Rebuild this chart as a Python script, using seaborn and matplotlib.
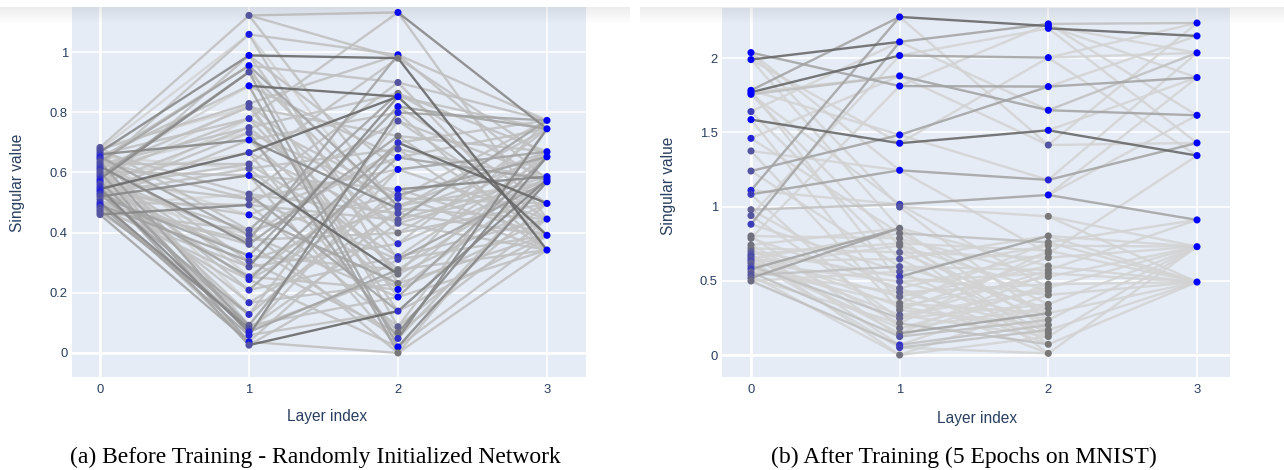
import numpy as np
import pandas as pd
import matplotlib
matplotlib.use("Agg")
import matplotlib.pyplot as plt
import seaborn as sns

LAYERS = [0, 1, 2, 3]

# ---- Before training: nodes are (singular value, blue tone 0..1) ----
before_l0 = [(0.683, 0.25), (0.676, 0.30), (0.668, 0.35), (0.660, 0.45), (0.652, 0.70),
             (0.645, 0.55), (0.636, 0.30), (0.628, 0.35), (0.620, 0.40), (0.612, 0.50),
             (0.603, 0.35), (0.595, 0.30), (0.587, 0.40), (0.578, 0.55), (0.570, 0.75),
             (0.562, 0.40), (0.553, 0.50), (0.545, 0.60), (0.537, 0.70), (0.528, 0.50),
             (0.520, 0.35), (0.510, 0.30), (0.500, 0.50), (0.492, 0.70), (0.484, 0.40),
             (0.476, 0.30), (0.468, 0.30), (0.460, 0.30)]
before_l1 = [(1.122, 0.30), (1.059, 0.80), (0.989, 1.00), (0.955, 1.00), (0.934, 0.35),
             (0.888, 1.00), (0.829, 0.35), (0.817, 0.35), (0.779, 0.60), (0.749, 0.40),
             (0.732, 0.40), (0.708, 1.00), (0.666, 0.60), (0.628, 0.35), (0.613, 0.35),
             (0.590, 0.90), (0.528, 0.30), (0.512, 0.30), (0.492, 0.35), (0.459, 0.90),
             (0.408, 0.35), (0.392, 0.35), (0.375, 0.30), (0.361, 0.30), (0.323, 1.00),
             (0.305, 0.40), (0.286, 0.35), (0.253, 0.70), (0.244, 0.70), (0.209, 0.60),
             (0.167, 0.60), (0.128, 0.60), (0.092, 0.20), (0.081, 0.35), (0.070, 0.70),
             (0.059, 0.70), (0.037, 0.85), (0.026, 0.30)]
before_l2 = [(1.132, 1.00), (0.991, 1.00), (0.980, 0.00), (0.899, 0.30), (0.863, 0.05),
             (0.852, 1.00), (0.819, 0.90), (0.799, 0.75), (0.771, 0.35), (0.721, 0.05),
             (0.699, 0.60), (0.678, 0.40), (0.650, 1.00), (0.610, 1.00), (0.544, 0.90),
             (0.525, 0.60), (0.514, 0.60), (0.489, 0.45), (0.480, 0.40), (0.464, 0.40),
             (0.442, 0.30), (0.431, 0.30), (0.399, 0.05), (0.363, 0.65), (0.320, 0.60),
             (0.311, 0.45), (0.277, 0.05), (0.262, 0.05), (0.231, 0.05), (0.211, 1.00),
             (0.186, 1.00), (0.139, 0.60), (0.087, 0.20), (0.067, 0.05), (0.048, 0.60),
             (0.020, 1.00), (0.000, 0.00)]
before_l3 = [(0.773, 1.0), (0.745, 1.0), (0.669, 1.0), (0.652, 1.0), (0.586, 1.0),
             (0.577, 1.0), (0.569, 1.0), (0.497, 1.0), (0.445, 1.0), (0.391, 1.0),
             (0.342, 1.0)]

# connections (from value, to value, darkness 1..5)
before_e01 = [(0.683, 1.122, 2), (0.683, 0.408, 2), (0.683, 0.817, 1),
              (0.676, 0.829, 2), (0.676, 0.059, 2), (0.676, 1.059, 1),
              (0.668, 0.989, 4), (0.668, 0.528, 2), (0.668, 0.253, 1),
              (0.660, 0.708, 4), (0.660, 0.092, 2), (0.660, 0.779, 2),
              (0.652, 0.888, 2), (0.652, 0.392, 3), (0.652, 0.613, 1),
              (0.645, 0.305, 2), (0.645, 0.955, 2), (0.645, 0.167, 1),
              (0.636, 0.955, 3), (0.636, 0.081, 3), (0.636, 0.512, 2),
              (0.628, 0.749, 2), (0.628, 0.026, 2), (0.628, 0.628, 2),
              (0.620, 0.361, 4), (0.620, 1.059, 2), (0.620, 0.732, 1),
              (0.612, 0.209, 2), (0.612, 0.817, 2), (0.612, 0.459, 1),
              (0.603, 0.590, 2), (0.603, 0.037, 3), (0.603, 0.888, 1),
              (0.595, 0.779, 2), (0.595, 0.286, 2), (0.595, 0.128, 2),
              (0.587, 0.934, 3), (0.587, 0.375, 2), (0.587, 0.666, 1),
              (0.578, 0.934, 4), (0.578, 0.244, 2), (0.578, 0.070, 2),
              (0.570, 0.512, 2), (0.570, 0.829, 1), (0.570, 0.092, 3),
              (0.562, 0.408, 2), (0.562, 0.749, 2), (0.562, 0.167, 2),
              (0.553, 0.628, 2), (0.553, 0.026, 3), (0.553, 0.989, 2),
              (0.545, 0.666, 5), (0.545, 0.070, 4), (0.545, 0.323, 2),
              (0.537, 0.732, 2), (0.537, 0.253, 3), (0.537, 0.459, 2),
              (0.528, 0.613, 2), (0.528, 0.128, 3), (0.528, 0.392, 1),
              (0.520, 0.590, 4), (0.520, 0.323, 3), (0.520, 0.779, 1),
              (0.510, 0.209, 2), (0.510, 0.708, 2), (0.510, 0.037, 2),
              (0.500, 0.081, 4), (0.500, 0.492, 2), (0.500, 0.361, 2),
              (0.492, 0.305, 3), (0.492, 0.528, 1), (0.492, 0.059, 3),
              (0.484, 0.244, 2), (0.484, 0.375, 2),
              (0.476, 0.092, 3), (0.476, 0.286, 2),
              (0.468, 0.128, 2), (0.468, 0.408, 2),
              (0.460, 0.492, 4), (0.460, 0.037, 3)]
before_e12 = [(1.122, 1.132, 2), (1.122, 0.480, 2), (1.122, 0.980, 2),
              (1.059, 0.991, 2), (1.059, 0.231, 2), (1.059, 0.431, 1),
              (0.989, 0.980, 5), (0.989, 0.610, 2), (0.989, 0.311, 2),
              (0.955, 0.489, 3), (0.955, 0.087, 2), (0.955, 0.899, 2),
              (0.934, 0.442, 2), (0.934, 0.020, 3),
              (0.888, 0.852, 5), (0.888, 0.000, 3), (0.888, 0.650, 2),
              (0.829, 0.399, 2), (0.829, 0.991, 2), (0.829, 0.139, 2),
              (0.817, 0.721, 2), (0.817, 0.186, 2),
              (0.779, 1.132, 2), (0.779, 0.262, 2), (0.779, 0.525, 2),
              (0.749, 0.363, 2), (0.749, 0.863, 2),
              (0.732, 0.048, 3), (0.732, 0.514, 2),
              (0.708, 0.480, 4), (0.708, 0.277, 2), (0.708, 0.799, 2),
              (0.666, 0.852, 5), (0.666, 0.431, 2), (0.666, 0.067, 2),
              (0.628, 0.320, 2), (0.628, 0.980, 2),
              (0.613, 0.211, 2), (0.613, 0.678, 2),
              (0.590, 0.262, 5), (0.590, 0.544, 2), (0.590, 0.020, 2),
              (0.528, 0.464, 2), (0.528, 0.899, 2), (0.528, 0.139, 3),
              (0.512, 0.610, 2), (0.512, 0.311, 2),
              (0.492, 0.087, 2), (0.492, 0.771, 2), (0.492, 0.442, 2),
              (0.459, 0.231, 3), (0.459, 0.650, 2),
              (0.408, 0.525, 2), (0.408, 0.000, 2), (0.408, 0.863, 3),
              (0.392, 0.678, 2), (0.392, 0.186, 2),
              (0.375, 0.399, 2), (0.375, 0.991, 3),
              (0.361, 0.048, 2), (0.361, 0.721, 3),
              (0.323, 0.819, 3), (0.323, 0.277, 2),
              (0.305, 0.489, 2), (0.305, 0.067, 2),
              (0.286, 0.852, 4), (0.286, 0.363, 2),
              (0.253, 0.610, 2), (0.253, 0.211, 2),
              (0.244, 0.514, 2), (0.244, 0.020, 2), (0.244, 0.699, 3),
              (0.209, 0.320, 2), (0.209, 0.650, 3),
              (0.167, 0.464, 2), (0.167, 0.231, 2),
              (0.128, 0.544, 2), (0.128, 0.771, 2),
              (0.092, 0.186, 2), (0.092, 0.699, 3),
              (0.081, 0.431, 2), (0.081, 0.262, 2),
              (0.070, 0.610, 2), (0.070, 0.277, 3),
              (0.059, 0.799, 4), (0.059, 0.139, 2),
              (0.037, 0.480, 2), (0.037, 0.000, 2),
              (0.026, 0.139, 5), (0.026, 0.311, 2)]
before_e23 = [(1.132, 0.745, 4), (1.132, 0.445, 2),
              (0.991, 0.773, 2), (0.991, 0.577, 2),
              (0.980, 0.342, 5), (0.980, 0.652, 2),
              (0.899, 0.391, 2), (0.899, 0.773, 2),
              (0.863, 0.569, 2), (0.863, 0.669, 2),
              (0.852, 0.391, 5), (0.852, 0.745, 2),
              (0.819, 0.745, 3), (0.819, 0.497, 2),
              (0.799, 0.773, 3), (0.799, 0.342, 2),
              (0.771, 0.586, 2), (0.771, 0.445, 2),
              (0.721, 0.391, 2), (0.721, 0.669, 2),
              (0.699, 0.497, 5), (0.699, 0.773, 2),
              (0.678, 0.577, 2), (0.678, 0.342, 2),
              (0.650, 0.577, 3), (0.650, 0.745, 2),
              (0.610, 0.669, 3), (0.610, 0.445, 2),
              (0.544, 0.586, 4), (0.544, 0.391, 2),
              (0.525, 0.652, 3), (0.525, 0.342, 2),
              (0.514, 0.773, 2), (0.514, 0.497, 2),
              (0.489, 0.569, 2), (0.489, 0.669, 2),
              (0.480, 0.445, 2), (0.480, 0.745, 2),
              (0.464, 0.652, 2), (0.464, 0.391, 2),
              (0.442, 0.773, 3), (0.442, 0.586, 2),
              (0.431, 0.342, 2), (0.431, 0.569, 2),
              (0.399, 0.669, 2), (0.399, 0.497, 2),
              (0.363, 0.745, 2), (0.363, 0.577, 2),
              (0.320, 0.652, 2), (0.320, 0.445, 2),
              (0.311, 0.569, 3), (0.311, 0.391, 2),
              (0.277, 0.586, 2), (0.277, 0.342, 2),
              (0.262, 0.497, 2), (0.262, 0.773, 2),
              (0.231, 0.669, 2), (0.231, 0.391, 2),
              (0.211, 0.577, 2), (0.211, 0.445, 2),
              (0.186, 0.652, 3), (0.186, 0.342, 2),
              (0.139, 0.577, 4), (0.139, 0.391, 2),
              (0.087, 0.745, 2), (0.087, 0.497, 2),
              (0.067, 0.652, 4), (0.067, 0.445, 2),
              (0.048, 0.745, 4), (0.048, 0.569, 2),
              (0.020, 0.569, 4), (0.020, 0.391, 2),
              (0.000, 0.342, 2), (0.000, 0.586, 2)]

# ---- After training (5 epochs on MNIST) ----
after_l0 = [(2.037, 1.00), (1.990, 1.00), (1.783, 1.00), (1.770, 1.00), (1.756, 1.00),
            (1.640, 0.50), (1.586, 1.00), (1.460, 0.70), (1.375, 0.30), (1.240, 0.30),
            (1.110, 0.70), (1.083, 0.50), (0.980, 0.20), (0.940, 0.30), (0.882, 0.50),
            (0.803, 0.05), (0.787, 0.05), (0.742, 0.05), (0.720, 0.05), (0.700, 0.20),
            (0.680, 0.30), (0.665, 0.40), (0.650, 0.30), (0.635, 0.40), (0.620, 0.20),
            (0.600, 0.30), (0.580, 0.50), (0.560, 0.20), (0.540, 0.30), (0.520, 0.20),
            (0.500, 0.10)]
after_l1 = [(2.277, 1.00), (2.109, 1.00), (2.017, 1.00), (1.880, 1.00), (1.812, 1.00),
            (1.483, 1.00), (1.427, 1.00), (1.245, 1.00), (1.016, 0.50), (0.998, 0.30),
            (0.855, 0.05), (0.821, 0.05), (0.787, 0.05), (0.754, 0.05), (0.738, 0.05),
            (0.693, 0.20), (0.648, 0.30), (0.597, 0.30), (0.563, 0.30), (0.529, 0.50),
            (0.496, 0.30), (0.451, 0.20), (0.424, 0.20), (0.395, 0.15), (0.350, 0.05),
            (0.328, 0.05), (0.305, 0.05), (0.271, 0.20), (0.249, 0.15), (0.215, 0.05),
            (0.182, 0.10), (0.148, 0.05), (0.126, 0.30), (0.070, 0.60), (0.052, 0.50),
            (0.002, 0.05)]
after_l2 = [(2.230, 1.0), (2.216, 1.0), (2.200, 1.0), (2.003, 1.0), (1.808, 1.0),
            (1.649, 1.0), (1.514, 1.0), (1.415, 0.3), (1.180, 0.7), (1.079, 1.0),
            (0.935, 0.0), (0.803, 0.0), (0.760, 0.0), (0.738, 0.0), (0.704, 0.0),
            (0.686, 0.0), (0.657, 0.0), (0.601, 0.0), (0.574, 0.0), (0.552, 0.0),
            (0.529, 0.0), (0.478, 0.0), (0.455, 0.0), (0.433, 0.0), (0.406, 0.0),
            (0.343, 0.0), (0.316, 0.0), (0.283, 0.0), (0.238, 0.0), (0.204, 0.0),
            (0.170, 0.0), (0.148, 0.0), (0.126, 0.0), (0.074, 0.0), (0.013, 0.0)]
after_l3 = [(2.236, 1.0), (2.149, 1.0), (2.035, 1.0), (1.869, 1.0), (1.615, 1.0),
            (1.429, 1.0), (1.344, 1.0), (0.911, 1.0), (0.731, 1.0), (0.493, 1.0)]

after_e01 = [(2.037, 1.812, 3), (2.037, 1.245, 1), (2.037, 0.998, 1),
             (1.990, 2.109, 5), (1.990, 1.427, 1), (1.990, 0.855, 1),
             (1.783, 2.277, 3), (1.783, 1.483, 1), (1.783, 0.496, 1),
             (1.770, 2.017, 5), (1.770, 1.880, 1),
             (1.756, 1.880, 2), (1.756, 0.738, 1), (1.756, 1.016, 1),
             (1.640, 2.109, 1), (1.640, 0.648, 1),
             (1.586, 1.427, 5), (1.586, 0.350, 1),
             (1.460, 1.880, 1), (1.460, 0.821, 1),
             (1.375, 1.245, 1), (1.375, 0.305, 1),
             (1.240, 1.483, 3), (1.240, 0.597, 1),
             (1.110, 2.277, 3), (1.110, 1.016, 1),
             (1.083, 1.245, 3), (1.083, 0.182, 1),
             (0.980, 1.016, 2), (0.980, 0.424, 1),
             (0.940, 2.017, 1), (0.940, 0.249, 1),
             (0.882, 2.109, 3), (0.882, 0.563, 1),
             (0.803, 0.787, 1), (0.803, 0.126, 1),
             (0.787, 1.812, 1), (0.787, 0.451, 1),
             (0.742, 0.855, 1), (0.742, 0.215, 1),
             (0.720, 0.693, 1), (0.720, 0.070, 1),
             (0.700, 0.529, 1), (0.700, 0.328, 1),
             (0.680, 0.754, 1), (0.680, 0.002, 1),
             (0.665, 0.395, 1), (0.665, 0.148, 1),
             (0.650, 0.821, 1), (0.650, 0.271, 1),
             (0.635, 0.648, 1), (0.635, 0.052, 1),
             (0.620, 0.496, 1), (0.620, 0.182, 1),
             (0.600, 0.738, 1), (0.600, 0.249, 2),
             (0.580, 0.855, 3), (0.580, 0.350, 1),
             (0.560, 0.424, 1), (0.560, 0.126, 2),
             (0.540, 0.597, 2), (0.540, 0.002, 1),
             (0.520, 0.855, 3), (0.520, 0.215, 1),
             (0.500, 0.563, 1), (0.500, 0.070, 2)]
after_e12 = [(2.277, 2.216, 5), (2.277, 1.415, 1),
             (2.109, 2.230, 3), (2.109, 1.649, 1),
             (2.017, 2.003, 3), (2.017, 2.200, 1),
             (1.880, 1.649, 3), (1.880, 1.415, 1),
             (1.812, 1.808, 3), (1.812, 2.230, 1),
             (1.483, 1.808, 3), (1.483, 1.180, 1),
             (1.427, 1.514, 5), (1.427, 2.003, 1),
             (1.245, 1.180, 3), (1.245, 0.686, 1),
             (1.016, 1.079, 3), (1.016, 0.455, 1),
             (0.998, 0.935, 1), (0.998, 0.238, 1),
             (0.855, 0.170, 1), (0.855, 0.601, 1),
             (0.821, 0.760, 2), (0.821, 0.343, 1),
             (0.787, 0.529, 1), (0.787, 0.074, 1),
             (0.754, 0.704, 1), (0.754, 0.204, 1),
             (0.738, 0.433, 1), (0.738, 0.013, 1),
             (0.693, 0.657, 1), (0.693, 0.283, 1),
             (0.648, 0.803, 1), (0.648, 0.148, 1),
             (0.597, 0.574, 1), (0.597, 0.316, 1),
             (0.563, 0.738, 1), (0.563, 0.126, 1),
             (0.529, 0.803, 3), (0.529, 0.406, 1),
             (0.496, 0.552, 1), (0.496, 0.238, 1),
             (0.451, 0.686, 1), (0.451, 0.074, 1),
             (0.424, 0.478, 1), (0.424, 0.170, 1),
             (0.395, 0.601, 1), (0.395, 0.013, 1),
             (0.350, 0.760, 1), (0.350, 0.283, 1),
             (0.328, 0.529, 1), (0.328, 0.148, 1),
             (0.305, 0.657, 1), (0.305, 0.204, 1),
             (0.271, 0.433, 1), (0.271, 0.126, 1),
             (0.249, 0.574, 1), (0.249, 0.343, 1),
             (0.215, 0.704, 1), (0.215, 0.074, 2),
             (0.182, 0.455, 1), (0.182, 0.316, 1),
             (0.148, 0.283, 3), (0.148, 0.552, 1),
             (0.126, 0.238, 2), (0.126, 0.478, 1),
             (0.070, 0.204, 2), (0.070, 0.406, 1),
             (0.052, 0.170, 2), (0.052, 0.013, 1),
             (0.002, 0.126, 1), (0.002, 0.343, 1)]
after_e23 = [(2.230, 2.236, 2), (2.230, 1.615, 1),
             (2.216, 2.035, 1), (2.216, 1.869, 1),
             (2.200, 2.149, 5), (2.200, 1.429, 1),
             (2.003, 2.236, 1), (2.003, 2.035, 1), (2.003, 1.344, 1),
             (1.808, 1.869, 3), (1.808, 2.149, 1),
             (1.649, 1.615, 3), (1.649, 2.035, 2),
             (1.514, 1.344, 5), (1.514, 1.869, 1),
             (1.415, 1.429, 1), (1.415, 2.236, 1),
             (1.180, 1.429, 3), (1.180, 2.035, 1),
             (1.079, 0.911, 3), (1.079, 1.615, 1), (1.079, 1.869, 1),
             (0.935, 0.731, 1), (0.935, 0.493, 1),
             (0.803, 0.731, 1), (0.803, 0.493, 1),
             (0.760, 0.911, 1), (0.760, 0.493, 1),
             (0.738, 0.731, 1), (0.704, 0.493, 1), (0.686, 1.344, 1),
             (0.657, 0.731, 1), (0.601, 0.493, 1), (0.574, 0.911, 1),
             (0.552, 0.493, 1), (0.529, 0.731, 1), (0.478, 0.493, 1),
             (0.455, 0.731, 1), (0.406, 0.493, 1), (0.343, 0.731, 1),
             (0.283, 0.493, 1), (0.238, 0.731, 1), (0.170, 0.493, 1),
             (0.126, 0.731, 1), (0.074, 0.493, 1), (0.013, 0.731, 1)]

before_yticks = [0, 0.2, 0.4, 0.6, 0.8, 1]
before_ylabels = ["0", "0.2", "0.4", "0.6", "0.8", "1"]
after_yticks = [0, 0.5, 1, 1.5, 2]
after_ylabels = ["0", "0.5", "1", "1.5", "2"]
xticks = [0, 1, 2, 3]

captions = ["(a) Before Training - Randomly Initialized Network",
            "(b) After Training (5 Epochs on MNIST)"]

# ---- styling ----
W, H = 1284, 470
BG = "#E5ECF6"
FONT_COLOR = "#2a3f5f"
GRAY = np.array([0.47, 0.47, 0.47])
BLUE = np.array([0.0, 0.0, 1.0])
LINE_SHADES = {1: "#d3d3d3", 2: "#c0c0c0", 3: "#a3a3a3", 4: "#868686", 5: "#666666"}

plt.rcParams["font.family"] = ["Liberation Sans", "DejaVu Sans"]


def node_frame(layers):
    rows = []
    for x, nodes in zip(LAYERS, layers):
        for v, t in nodes:
            rows.append((x, v, t))
    return pd.DataFrame(rows, columns=["layer", "value", "tone"])


def edge_frame(transitions):
    rows = []
    k = 0
    for x, edges in zip(LAYERS[:-1], transitions):
        for a, b, s in edges:
            rows.append((k, x, a, s))
            rows.append((k, x + 1, b, s))
            k += 1
    return pd.DataFrame(rows, columns=["edge", "layer", "value", "shade"])


def tone_color(t):
    return tuple((1 - t) * GRAY + t * BLUE)


def px_rect(x0, y0, x1, y1):
    return [x0 / W, 1 - y1 / H, (x1 - x0) / W, (y1 - y0) / H]


def draw_panel(ax, layers, transitions, yticks, ylabels, xlim, ylim):
    ax.set_facecolor(BG)
    for s in ax.spines.values():
        s.set_visible(False)

    edges = edge_frame(transitions)
    sns.lineplot(data=edges, x="layer", y="value", hue="shade", units="edge",
                 estimator=None, palette=LINE_SHADES, hue_order=[1, 2, 3, 4, 5],
                 linewidth=1.7, alpha=0.88, legend=False, ax=ax, zorder=2)

    nodes = node_frame(layers)
    pal = {t: tone_color(t) for t in nodes["tone"].unique()}
    sns.scatterplot(data=nodes, x="layer", y="value", hue="tone", palette=pal,
                    s=26, linewidth=0, legend=False, ax=ax, zorder=4)

    ax.set_xlim(*xlim)
    ax.set_ylim(*ylim)
    ax.set_xticks(xticks)
    ax.set_xticklabels([str(t) for t in xticks])
    ax.set_yticks(yticks)
    ax.set_yticklabels(ylabels)
    ax.grid(True, color="white", linewidth=1.1)
    ax.set_axisbelow(True)
    ax.axhline(0, color="white", linewidth=1.8, zorder=1)
    ax.axvline(0, color="white", linewidth=1.8, zorder=1)
    ax.tick_params(length=0, labelsize=9.4, labelcolor=FONT_COLOR)
    ax.tick_params(axis="y", pad=3)
    ax.tick_params(axis="x", pad=5)
    ax.set_xlabel("")
    ax.set_ylabel("")


fig = plt.figure(figsize=(W / 100, H / 100), dpi=100)

ax_a = fig.add_axes(px_rect(72, 7, 586, 377))
draw_panel(ax_a, [before_l0, before_l1, before_l2, before_l3],
           [before_e01, before_e12, before_e23],
           before_yticks, before_ylabels, (-0.188, 3.262), (-0.080, 1.150))

ax_b = fig.add_axes(px_rect(722, 8, 1230, 377))
draw_panel(ax_b, [after_l0, after_l1, after_l2, after_l3],
           [after_e01, after_e12, after_e23],
           after_yticks, after_ylabels, (-0.195, 3.222), (-0.146, 2.337))

# axis titles
for cx, cy in [(327, 416), (977, 418)]:
    fig.text(cx / W, 1 - cy / H, "Layer index", ha="center", va="center",
             fontsize=11.2, color=FONT_COLOR)
for cx, cy in [(18, 183), (669, 186)]:
    fig.text(cx / W, 1 - cy / H, "Singular value", ha="center", va="center",
             rotation=90, fontsize=11.2, color=FONT_COLOR)

# captions
for cx, text in [(315, captions[0]), (964, captions[1])]:
    fig.text(cx / W, 1 - 457 / H, text, ha="center", va="center",
             fontsize=17, family=["Liberation Serif", "DejaVu Serif"], color="black")

# soft shadow band along the top edge of each panel image
grad = np.zeros((40, 2, 4))
grad[..., :3] = 0.45
grad[..., 3] = np.linspace(0.13, 0.0, 40)[:, None]
for x0, x1 in [(0, 630), (640, 1284)]:
    sh = fig.add_axes(px_rect(x0, 7, x1, 24), zorder=10)
    sh.imshow(grad, aspect="auto", interpolation="bilinear")
    sh.axis("off")

fig.savefig("out.png", dpi=100)
